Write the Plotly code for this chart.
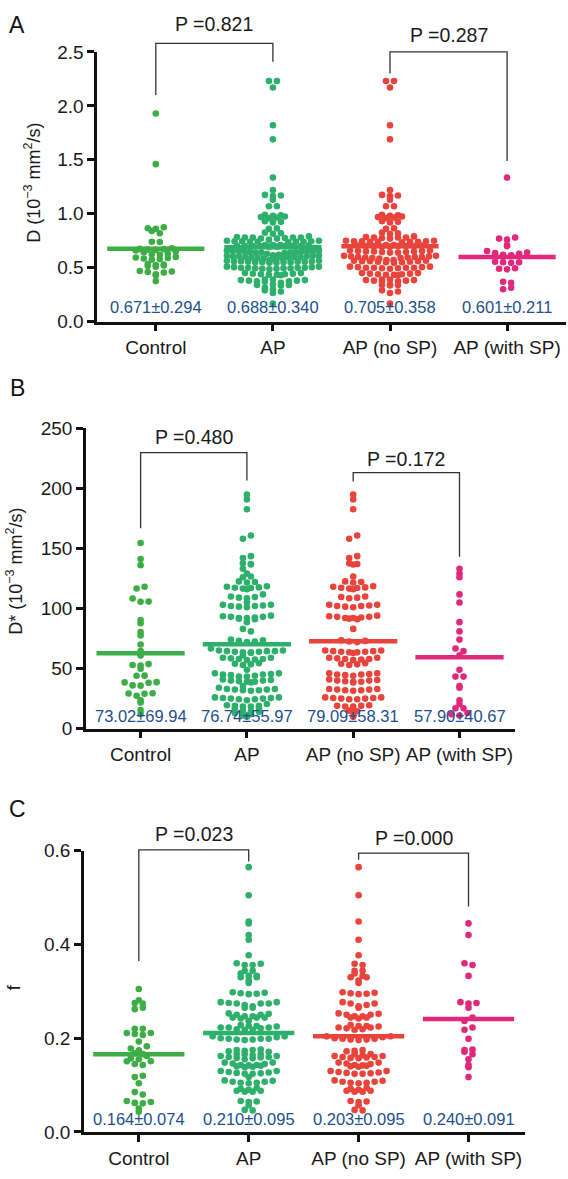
import numpy as np
import plotly.graph_objects as go

W, H = 568, 1179
FONT = "Liberation Sans, Arial, Helvetica, sans-serif"

categories = ["Control", "AP", "AP (no SP)", "AP (with SP)"]
colors = ["#3DAE45", "#2DB06C", "#E8443C", "#E2287C"]
label_color = "#22508C"

# ---------------- Panel A : D (10^-3 mm^2/s) ----------------
D_control = [1.93, 1.46, 0.875, 0.866, 0.86, 0.841, 0.82, 0.741, 0.738, 0.68, 0.675, 0.672,
             0.668, 0.665, 0.66, 0.65, 0.644, 0.629, 0.625, 0.62, 0.60, 0.595, 0.59, 0.585,
             0.58, 0.575, 0.535, 0.53, 0.525, 0.52, 0.515, 0.51, 0.47, 0.465, 0.46, 0.455,
             0.44, 0.43, 0.376]
D_ap_nosp = [2.23, 2.23, 2.17, 1.82, 1.69,
             1.22, 1.175, 1.17, 1.165, 1.13, 1.07, 1.07,
             0.99, 0.985, 0.98, 0.975, 0.97, 0.965, 0.96,
             0.93, 0.925, 0.92, 0.865, 0.86, 0.825, 0.82, 0.815,
             0.79, 0.785, 0.78, 0.78, 0.775, 0.77, 0.78,
             0.75, 0.745, 0.745, 0.74, 0.74, 0.74, 0.735, 0.745, 0.75, 0.74,
             0.71, 0.705, 0.70, 0.70, 0.695, 0.70, 0.70, 0.705, 0.71, 0.70, 0.695,
             0.66, 0.655, 0.65, 0.645, 0.64, 0.64, 0.645, 0.65, 0.655, 0.66, 0.65,
             0.61, 0.605, 0.60, 0.595, 0.59, 0.585, 0.59, 0.595, 0.60, 0.605, 0.61, 0.60,
             0.57, 0.565, 0.56, 0.555, 0.55, 0.545, 0.55, 0.555, 0.56, 0.565, 0.57, 0.56,
             0.51, 0.505, 0.50, 0.50, 0.495, 0.49, 0.495, 0.50, 0.505, 0.51, 0.50,
             0.45, 0.445, 0.44, 0.435, 0.43, 0.435, 0.44, 0.445, 0.45,
             0.39, 0.385, 0.38, 0.375, 0.375, 0.38, 0.385, 0.39,
             0.345, 0.34, 0.335, 0.34,
             0.29, 0.28, 0.265, 0.167]
D_ap_withsp = [1.335, 0.78, 0.77, 0.76, 0.71, 0.70, 0.655, 0.64, 0.635, 0.63, 0.62, 0.615,
               0.61, 0.605, 0.555, 0.55, 0.55, 0.545, 0.495, 0.49, 0.485, 0.37, 0.36, 0.315, 0.30]
# the AP group is every AP patient: no SP + with SP
D_ap = D_ap_nosp + D_ap_withsp
D_lines = [0.675, 0.69, 0.70, 0.60]
D_labels = ["0.671±0.294", "0.688±0.340", "0.705±0.358", "0.601±0.211"]
D_pvalues = ["P =0.821", "P =0.287"]

# ---------------- Panel B : D* (10^-3 mm^2/s) ----------------
Ds_control = [154.4, 141.1, 136, 118, 116.6, 108.2, 105.7, 105.5, 90.4, 87.7, 80.4, 77.6, 70,
              64.5, 60.8, 53.7, 53, 52.5, 49.8, 44.1, 44, 38.7, 38.5, 38.2, 36, 35.8, 29.4,
              29.2, 29, 27.3, 23.7, 21.8, 15.5, 12.3]
Ds_ap_nosp = [194.8, 190.7, 182.5, 160.7, 158, 143.5, 142, 137.5, 137, 136.5, 126.6,
              122.5, 122, 121.5,
              118.5, 118, 117.5, 117.2, 117, 116.5, 116,
              110, 109.5, 109, 108.5,
              103, 102.5, 102, 101.5, 101, 102, 103,
              94, 93.5, 93, 92.5, 92, 91.5, 91, 92, 93,
              83,
              73.5, 73, 72.5, 72,
              65, 64.5, 64, 63.5, 63, 63.5, 64, 64.5, 65,
              59, 58.5, 58, 57.5, 57, 58, 59,
              54.5, 54, 53.5, 53,
              46, 45.5, 45, 44.5, 44, 45, 46,
              40.5, 40, 39.5, 39, 38.5, 39, 40, 41,
              33, 32.5, 32, 31.5, 32, 32.5, 33,
              26, 25.5, 25, 24.5, 24.5, 25, 25.5, 26,
              19.5, 19, 18.5, 18.5, 19,
              15, 14.5, 14,
              10]
Ds_ap_withsp = [133, 129, 126, 111.7, 105, 88.6, 80.9, 74.1, 66.7, 64.5, 61, 49, 43.3, 43.3,
                35.5, 34, 23.7, 20.5, 16.9, 16.9, 13, 12, 11]
Ds_ap = Ds_ap_nosp + Ds_ap_withsp
Ds_lines = [62.7, 70.3, 72.7, 59.4]
Ds_labels = ["73.02±69.94", "76.74±55.97", "79.09±58.31", "57.90±40.67"]
Ds_pvalues = ["P =0.480", "P =0.172"]

# ---------------- Panel C : f ----------------
f_control = [0.305, 0.281, 0.275, 0.274, 0.265, 0.262, 0.22, 0.22, 0.211, 0.211, 0.209, 0.207,
             0.193, 0.183, 0.178, 0.174, 0.168, 0.166, 0.162, 0.157, 0.155, 0.151, 0.151,
             0.145, 0.143, 0.12, 0.117, 0.104, 0.085, 0.08, 0.066, 0.064, 0.062, 0.061,
             0.05, 0.043]
f_ap_nosp = [0.565, 0.505, 0.449, 0.41, 0.377, 0.359, 0.356, 0.344, 0.344, 0.338, 0.333, 0.33,
             0.33, 0.323, 0.318,
             0.298, 0.296, 0.294, 0.295, 0.297,
             0.277, 0.274, 0.268, 0.265, 0.271, 0.274,
             0.253, 0.25, 0.247, 0.244, 0.242, 0.244, 0.247, 0.25, 0.252,
             0.228, 0.226, 0.223, 0.221, 0.218, 0.219, 0.223, 0.225, 0.226,
             0.204, 0.2, 0.199, 0.197, 0.196, 0.197, 0.199, 0.202, 0.204,
             0.175, 0.173, 0.172,
             0.166, 0.162, 0.16, 0.159, 0.157, 0.158, 0.16, 0.162, 0.164, 0.166,
             0.148, 0.145, 0.142, 0.14, 0.139, 0.141, 0.143, 0.146, 0.148,
             0.13, 0.127, 0.125, 0.124, 0.124, 0.126, 0.128, 0.13,
             0.11, 0.107, 0.105, 0.104, 0.105, 0.107, 0.109,
             0.094, 0.09, 0.088, 0.086, 0.086, 0.088, 0.092,
             0.066, 0.064, 0.065,
             0.057, 0.047, 0.046]
f_ap_withsp = [0.445, 0.42, 0.36, 0.356, 0.333, 0.277, 0.275, 0.274, 0.265, 0.244, 0.237,
               0.223, 0.218, 0.199, 0.176, 0.175, 0.171, 0.166, 0.155, 0.143, 0.138, 0.117]
f_ap = f_ap_nosp + f_ap_withsp
f_lines = [0.166, 0.211, 0.204, 0.241]
f_labels = ["0.164±0.074", "0.210±0.095", "0.203±0.095", "0.240±0.091"]
f_pvalues = ["P =0.023", "P =0.000"]

# ---------------- layout geometry (page pixels) ----------------
panels = [
    dict(letter="A", letter_y=15, groups=[D_control, D_ap, D_ap_nosp, D_ap_withsp],
         lines=D_lines, labels=D_labels, pvalues=D_pvalues,
         title="D (10<sup>−3</sup> mm<sup>2</sup>/s)", title_x=33, title_y=176,
         left=97.1, right=566, c0=155.8, sp=117.1, ybot=317.3, ytop=42.7,
         ymax=2.5, dtick=0.5, fmt=".1f", label_y=0.133,
         brackets=[(0, 1, 2.58, 2.10, 2.41, 2.76), (2, 3, 2.50, 2.30, 1.49, 2.66)]),
    dict(letter="B", letter_y=385, groups=[Ds_control, Ds_ap, Ds_ap_nosp, Ds_ap_withsp],
         lines=Ds_lines, labels=Ds_labels, pvalues=Ds_pvalues,
         title="D* (10<sup>−3</sup> mm<sup>2</sup>/s)", title_x=15, title_y=572,
         left=85.9, right=514.5, c0=140.6, sp=106.3, ybot=731.7, ytop=425.7,
         ymax=250, dtick=50, fmt="d", label_y=10.9,
         brackets=[(0, 1, 229.6, 166.7, 206.5, 242.4), (2, 3, 213, 205.6, 143, 224.2)]),
    dict(letter="C", letter_y=813, groups=[f_control, f_ap, f_ap_nosp, f_ap_withsp],
         lines=f_lines, labels=f_labels, pvalues=f_pvalues,
         title="f", title_x=14, title_y=995,
         left=84, right=525.4, c0=138.8, sp=109.9, ybot=1142.3, ytop=856,
         ymax=0.6, dtick=0.2, fmt=".1f", label_y=0.027,
         brackets=[(0, 1, 0.602, 0.365, 0.577, 0.635), (2, 3, 0.595, 0.581, 0.481, 0.628)]),
]


def px_x(x):
    return min(max(x / W, 0.0), 1.0)


def px_y(y):
    return min(max(1 - y / H, 0.0), 1.0)


def swarm(values, xscale, yscale, row_px=5.0, step_px=8.0, max_half_px=46.0):
    """Prism-like scatter: dots binned into rows, spread centre-out (lowest value in centre)."""
    vals = np.asarray(values, float)
    bins = np.floor(vals * yscale / row_px + 0.5).astype(int)
    offs = np.zeros(len(vals))
    for b in np.unique(bins):
        idx = np.where(bins == b)[0]
        idx = idx[np.argsort(vals[idx], kind="stable")]
        n = len(idx)
        step = step_px
        if n > 1 and (n - 1) * step_px > 2 * max_half_px:
            step = 2 * max_half_px / (n - 1)
        slots = (np.arange(n) - (n - 1) / 2.0) * step
        slot_order = sorted(range(n), key=lambda s: (round(abs(slots[s]), 6),
                                                     slots[s] * (1 if b % 2 else -1)))
        for k, s in zip(idx, slot_order):
            offs[k] = slots[s] / xscale
    return offs


fig = go.Figure()
layout = dict(width=W, height=H, margin=dict(l=0, r=0, t=0, b=0, pad=0),
              paper_bgcolor="white", plot_bgcolor="white", showlegend=False,
              font=dict(family=FONT, color="#1a1a1a"))
annotations = []
shapes = []

for pi, P in enumerate(panels):
    sfx = "" if pi == 0 else str(pi + 1)
    xa, ya = "x" + sfx, "y" + sfx
    ypx_per_unit = (P["ybot"] - P["ytop"]) / P["ymax"]

    def xcat(cat, P=P):
        return px_x(P["c0"] + cat * P["sp"])

    def yval(val, P=P, k=ypx_per_unit):
        return px_y(P["ybot"] - val * k)

    for gi, vals in enumerate(P["groups"]):
        offs = swarm(vals, P["sp"], ypx_per_unit)
        fig.add_trace(go.Scatter(x=gi + offs, y=vals, mode="markers", xaxis=xa, yaxis=ya,
                                 marker=dict(size=6.6, color=colors[gi], line=dict(width=0)),
                                 hoverinfo="skip"))
    for gi, lv in enumerate(P["lines"]):
        fig.add_trace(go.Scatter(x=[gi - 0.415, gi + 0.415], y=[lv, lv], mode="lines",
                                 xaxis=xa, yaxis=ya, line=dict(color=colors[gi], width=4.5),
                                 hoverinfo="skip"))
    for gi, txt in enumerate(P["labels"]):
        annotations.append(dict(text=txt, x=xcat(gi), y=yval(P["label_y"]), xref="paper",
                                yref="paper", showarrow=False, xanchor="center",
                                yanchor="middle", font=dict(size=16.5, color=label_color,
                                                            family=FONT)))

    xr = [(P["left"] - P["c0"]) / P["sp"], (P["right"] - P["c0"]) / P["sp"]]
    axis_style = dict(showline=True, linecolor="#111", linewidth=2.5, ticks="outside",
                      ticklen=7, tickwidth=2.5, tickcolor="#111", showgrid=False,
                      zeroline=False, fixedrange=True, ticklabeloverflow="allow",
                      tickfont=dict(size=19, family=FONT, color="#1a1a1a"))
    layout["xaxis" + sfx] = dict(domain=[px_x(P["left"]), px_x(P["right"])], range=xr,
                                 tickmode="array", tickvals=[0, 1, 2, 3],
                                 ticktext=categories, anchor=ya, **axis_style)
    ytv = list(np.round(np.arange(0, P["ymax"] + 1e-9, P["dtick"]), 6))
    ytt = [format(v, ".1f") if P["fmt"] == ".1f" else str(int(round(v))) for v in ytv]
    layout["yaxis" + sfx] = dict(domain=[px_y(P["ybot"]), px_y(P["ytop"])],
                                 range=[0, P["ymax"]], tickmode="array", tickvals=ytv,
                                 ticktext=ytt, anchor=xa, **axis_style)

    for (i, j, ytop_v, yl, yr, ytext), ptxt in zip(P["brackets"], P["pvalues"]):
        x0, x1 = xcat(i), xcat(j)
        path = (f"M {x0} {yval(yl)} L {x0} {yval(ytop_v)} L {x1} {yval(ytop_v)} "
                f"L {x1} {yval(yr)}")
        shapes.append(dict(type="path", path=path, xref="paper", yref="paper",
                           line=dict(color="#333", width=1.3)))
        annotations.append(dict(text=ptxt, x=(x0 + x1) / 2, y=yval(ytext), xref="paper",
                                yref="paper", showarrow=False, xanchor="center",
                                yanchor="middle", font=dict(size=19.5, color="#1a1a1a",
                                                            family=FONT)))

    annotations.append(dict(text=P["letter"], x=px_x(17), y=px_y(P["letter_y"]),
                            xref="paper", yref="paper", showarrow=False, xanchor="center",
                            yanchor="middle", font=dict(size=23, color="#111", family=FONT)))
    annotations.append(dict(text=P["title"], x=px_x(P["title_x"]), y=px_y(P["title_y"]),
                            xref="paper", yref="paper", showarrow=False, textangle=-90,
                            xanchor="center", yanchor="middle",
                            font=dict(size=18, color="#1a1a1a", family=FONT)))

layout["annotations"] = annotations
layout["shapes"] = shapes
fig.update_layout(**layout)
# remove the browser's default 8px body margin so the 568x1179 figure fills the window
fig.write_html("out.html",
               config={"displayModeBar": False, "responsive": False},
               post_script="document.documentElement.style.margin='0px';"
                           "document.body.style.margin='0px';"
                           "document.body.style.padding='0px';"
                           "document.body.style.overflow='hidden';"
                           "var gd=document.getElementById('{plot_id}');"
                           "gd.style.position='fixed';gd.style.left='0px';gd.style.top='0px';")
